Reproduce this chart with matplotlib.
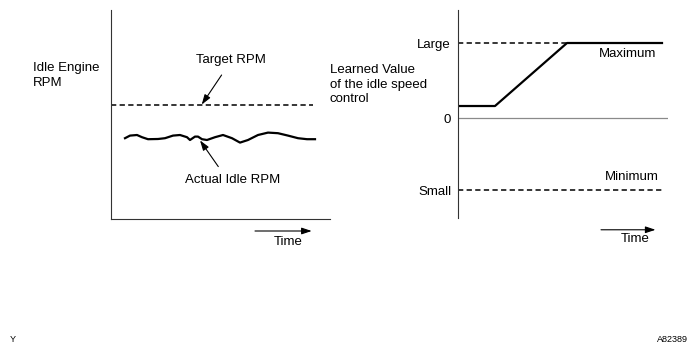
import matplotlib
matplotlib.use("Agg")
import matplotlib.pyplot as plt

plt.rcParams['font.family'] = ['Liberation Sans', 'DejaVu Sans']
plt.rcParams['lines.scale_dashes'] = False

# left panel: idle engine rpm vs time
actual_t = [1.4, 1.9, 2.6, 3.1, 3.7, 4.7, 5.4, 6.2, 6.9, 7.6, 7.9, 8.4, 8.7, 9.1,
            9.6, 10.4, 11.2, 12.1, 12.9, 13.7, 14.7, 15.7, 16.7, 17.7, 18.7, 19.6, 20.4]
actual_rpm = [40.4, 41.7, 42.0, 40.9, 39.9, 40.0, 40.4, 41.7, 42.0, 40.9, 39.5, 41.2, 41.2, 39.9,
              39.5, 40.9, 42.0, 40.4, 38.2, 39.5, 42.0, 43.2, 42.9, 41.7, 40.4, 39.9, 39.9]
target_t = [0, 20.2]
target_rpm = [57, 57]

# right panel: learned value vs time
learned_t = [0, 3.7, 10.9, 20.4]
learned_val = [0.16, 0.16, 1.0, 1.0]
limit_t = [0, 20.4]
large_val = 1.0
small_val = -0.96
ytick_vals = [small_val, 0, large_val]
ytick_labels = ['Small', '0', 'Large']

W, H = 697, 352
fig = plt.figure(figsize=(W / 100, H / 100), dpi=100)

def px_axes(x0, y0, x1, y1):
    return fig.add_axes([x0 / W, 1 - y1 / H, (x1 - x0) / W, (y1 - y0) / H])

dash = (0, (3.8, 2.4))
fs = 9.5
axis_col = '#333333'
arrow = dict(arrowstyle='-|>,head_length=0.6,head_width=0.2', color='black',
             lw=0.8, mutation_scale=10, shrinkA=0, shrinkB=0)

# ---- left panel ----
ax1 = px_axes(111, 10, 330, 219)
ax1.set_xlim(0, 21.9)
ax1.set_ylim(0, 104.5)
for s in ['top', 'right']:
    ax1.spines[s].set_visible(False)
for s in ['left', 'bottom']:
    ax1.spines[s].set_color(axis_col)
    ax1.spines[s].set_linewidth(0.8)
ax1.set_xticks([])
ax1.set_yticks([])
ax1.patch.set_alpha(0)

ax1.plot(target_t, target_rpm, color='black', lw=1.1, linestyle=dash)
ax1.plot(actual_t, actual_rpm, color='black', lw=1.6, solid_joinstyle='round')

ax1.annotate('', xy=(9.07, 57.2), xytext=(11.06, 72), arrowprops=arrow)
ax1.annotate('', xy=(8.9, 39.3), xytext=(10.73, 26.2), arrowprops=arrow)
ax1.text(12.0, 79.5, 'Target RPM', ha='center', va='center', fontsize=fs)
ax1.text(12.2, 19.5, 'Actual Idle RPM', ha='center', va='center', fontsize=fs)
ax1.annotate('', xy=(20.07, -6), xytext=(14.4, -6), annotation_clip=False, arrowprops=arrow)
ax1.text(17.7, -11.3, 'Time', ha='center', va='center', fontsize=fs, clip_on=False)

for i, line in enumerate(['Idle Engine', 'RPM']):
    fig.text(32.7 / W, 1 - (68.3 + 15 * i) / H, line, ha='left', va='center', fontsize=fs)

# ---- right panel ----
ax2 = px_axes(458, 10, 668, 218)
ax2.set_xlim(0, 21.0)
ax2.set_ylim(-1.333, 1.44)
for s in ['top', 'right', 'bottom']:
    ax2.spines[s].set_visible(False)
ax2.spines['left'].set_color(axis_col)
ax2.spines['left'].set_linewidth(0.8)
ax2.set_xticks([])
ax2.set_yticks(ytick_vals)
ax2.set_yticklabels(ytick_labels, fontsize=fs)
ax2.tick_params(axis='y', length=0, pad=5)
ax2.patch.set_alpha(0)

ax2.axhline(0, color='#8a8a8a', lw=0.9)
ax2.plot(limit_t, [large_val] * 2, color='black', lw=1.1, linestyle=dash)
ax2.plot(limit_t, [small_val] * 2, color='black', lw=1.1, linestyle=dash)
ax2.plot(learned_t, learned_val, color='black', lw=1.6)

ax2.text(17.0, 0.86, 'Maximum', ha='center', va='center', fontsize=fs)
ax2.text(17.4, -0.78, 'Minimum', ha='center', va='center', fontsize=fs)
ax2.annotate('', xy=(19.75, -1.49), xytext=(14.3, -1.49), annotation_clip=False, arrowprops=arrow)
ax2.text(17.75, -1.617, 'Time', ha='center', va='center', fontsize=fs, clip_on=False)

for i, line in enumerate(['Learned Value', 'of the idle speed', 'control']):
    fig.text(330 / W, 1 - (70 + 14.6 * i) / H, line, ha='left', va='center', fontsize=fs)

# footer codes
fig.text(10 / W, 1 - 339 / H, 'Y', ha='left', va='center', fontsize=6.5)
fig.text(688 / W, 1 - 339 / H, 'A82389', ha='right', va='center', fontsize=6.5)

fig.savefig('out.png', dpi=100)
